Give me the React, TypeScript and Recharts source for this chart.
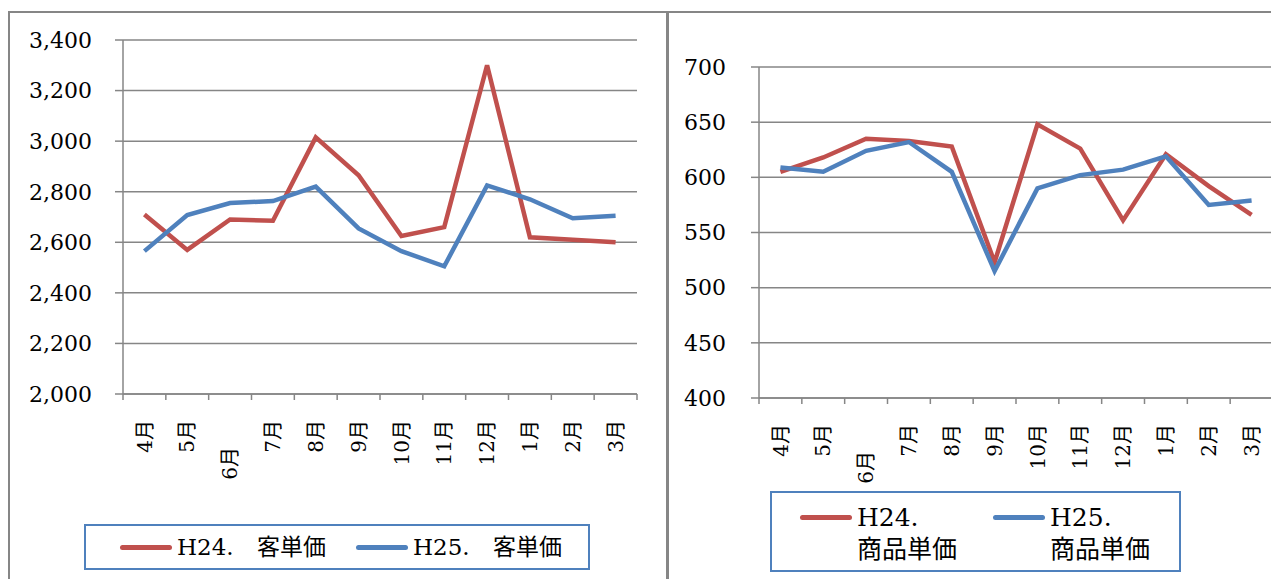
import { CartesianGrid, Legend, Line, LineChart, XAxis, YAxis } from "recharts";

const months = ["4月", "5月", "6月", "7月", "8月", "9月", "10月", "11月", "12月", "1月", "2月", "3月"];
const custH24 = [2710, 2570, 2690, 2685, 3015, 2865, 2625, 2660, 3300, 2620, 2610, 2600];
const custH25 = [2565, 2708, 2755, 2763, 2820, 2655, 2565, 2505, 2825, 2770, 2695, 2705];
const itemH24 = [605, 618, 635, 633, 628, 523, 648, 626, 561, 621, 592, 566];
const itemH25 = [609, 605, 624, 632, 605, 515, 590, 602, 607, 619, 575, 579];
const custTicks = [2000, 2200, 2400, 2600, 2800, 3000, 3200, 3400];
const itemTicks = [400, 450, 500, 550, 600, 650, 700];

const RED = "#c0504d";
const BLUE = "#4f81bd";
const GRAY = "#868686";
const FONT = '"DejaVu Serif", "Noto Sans CJK JP", serif';

const custData = months.map((m, i) => ({ month: m, h24: custH24[i], h25: custH25[i] }));
const itemData = months.map((m, i) => ({ month: m, h24: itemH24[i], h25: itemH25[i] }));

// category ticks sit between bands, labels rotated and hung below the axis
function MonthTick(props: any) {
  const { x, y, payload, index, visibleTicksCount } = props;
  const half = payload?.offset || 21.4;
  const top = y + 26 + (payload.value === "6月" ? 27 : 0);
  return (
    <g>
      <line x1={x - half} y1={y} x2={x - half} y2={y + 6} stroke={GRAY} strokeWidth={1.5} />
      {index === visibleTicksCount - 1 && (
        <line x1={x + half} y1={y} x2={x + half} y2={y + 6} stroke={GRAY} strokeWidth={1.5} />
      )}
      <text
        x={x}
        y={top}
        dy="0.36em"
        textAnchor="end"
        transform={`rotate(-90, ${x}, ${top})`}
        fontSize={20}
        fontFamily={FONT}
        fill="#000"
      >
        {payload.value}
      </text>
    </g>
  );
}

function LegendBox({ payload, split }: any) {
  return (
    <div
      style={{
        boxSizing: "border-box",
        width: "100%",
        height: "100%",
        border: `2px solid ${BLUE}`,
        display: "flex",
        alignItems: split ? "flex-start" : "center",
        paddingLeft: split ? 28 : 34,
        paddingTop: split ? 9 : 0,
        fontFamily: FONT,
        fontSize: split ? 25 : 23,
        wordSpacing: split ? 0 : 16,
        color: "#000",
        gap: split ? 36 : 30,
      }}
    >
      {(payload || []).map((p: any) => {
        const [a, b] = String(p.value).split(" ");
        return (
          <div key={p.value} style={{ display: "flex", alignItems: "flex-start" }}>
            <div
              style={{
                width: 52,
                height: 5,
                borderRadius: 3,
                background: p.color,
                marginTop: 13,
                marginRight: 5,
              }}
            />
            {split ? (
              <div style={{ lineHeight: "32px" }}>
                <div>{a}</div>
                <div>{b}</div>
              </div>
            ) : (
              <div style={{ lineHeight: "30px" }}>{p.value}</div>
            )}
          </div>
        );
      })}
    </div>
  );
}

export default function App() {
  return (
    <div
      style={{
        position: "absolute",
        left: 0,
        top: 0,
        width: 1271,
        height: 579,
        overflow: "hidden",
        background: "#fff",
      }}
    >
      <div
        style={{
          position: "absolute",
          left: 8,
          top: 11,
          width: 656,
          height: 600,
          border: `2px solid ${GRAY}`,
        }}
      />
      <div
        style={{
          position: "absolute",
          left: 667,
          top: 11,
          width: 620,
          height: 600,
          borderLeft: `2px solid ${GRAY}`,
          borderTop: `2px solid ${GRAY}`,
        }}
      />
      <div style={{ position: "absolute", left: 0, top: 0 }}>
        <LineChart width={667} height={579} data={custData} margin={{ top: 40, right: 30, left: 0, bottom: 125 }}>
          <CartesianGrid vertical={false} stroke={GRAY} strokeWidth={1.5} />
          <XAxis
            dataKey="month"
            scale="band"
            height={60}
            interval={0}
            tickLine={false}
            tickSize={0}
            tickMargin={0}
            axisLine={{ stroke: GRAY, strokeWidth: 1.5 }}
            tick={<MonthTick />}
          />
          <YAxis
            width={123}
            domain={[2000, 3400]}
            ticks={custTicks}
            tickFormatter={(v: number) => v.toLocaleString("en-US")}
            tickSize={8}
            tickMargin={23}
            tickLine={{ stroke: GRAY, strokeWidth: 1.5 }}
            axisLine={{ stroke: GRAY, strokeWidth: 1.5 }}
            tick={{ fill: "#000", fontSize: 22, fontFamily: FONT }}
          />
          <Legend
            layout="horizontal"
            verticalAlign="middle"
            align="center"
            wrapperStyle={{ left: 84, top: 524, width: 506, height: 46 }}
            content={(p: any) => <LegendBox payload={p.payload} />}
          />
          <Line dataKey="h24" name="H24. 客単価" stroke={RED} strokeWidth={4.5} dot={false} isAnimationActive={false} />
          <Line dataKey="h25" name="H25. 客単価" stroke={BLUE} strokeWidth={4.5} dot={false} isAnimationActive={false} />
        </LineChart>
      </div>
      <div style={{ position: "absolute", left: 667, top: 0 }}>
        <LineChart width={606} height={579} data={itemData} margin={{ top: 67, right: 0, left: 0, bottom: 121 }}>
          <CartesianGrid vertical={false} stroke={GRAY} strokeWidth={1.5} />
          <XAxis
            dataKey="month"
            scale="band"
            height={60}
            interval={0}
            tickLine={false}
            tickSize={0}
            tickMargin={0}
            axisLine={{ stroke: GRAY, strokeWidth: 1.5 }}
            tick={<MonthTick />}
          />
          <YAxis
            width={92}
            domain={[400, 700]}
            ticks={itemTicks}
            tickSize={8}
            tickMargin={25}
            tickLine={{ stroke: GRAY, strokeWidth: 1.5 }}
            axisLine={{ stroke: GRAY, strokeWidth: 1.5 }}
            tick={{ fill: "#000", fontSize: 22, fontFamily: FONT }}
          />
          <Legend
            layout="horizontal"
            verticalAlign="middle"
            align="center"
            wrapperStyle={{ left: 103, top: 491, width: 411, height: 81 }}
            content={(p: any) => <LegendBox payload={p.payload} split />}
          />
          <Line dataKey="h24" name="H24. 商品単価" stroke={RED} strokeWidth={4.5} dot={false} isAnimationActive={false} />
          <Line dataKey="h25" name="H25. 商品単価" stroke={BLUE} strokeWidth={4.5} dot={false} isAnimationActive={false} />
        </LineChart>
      </div>
    </div>
  );
}
